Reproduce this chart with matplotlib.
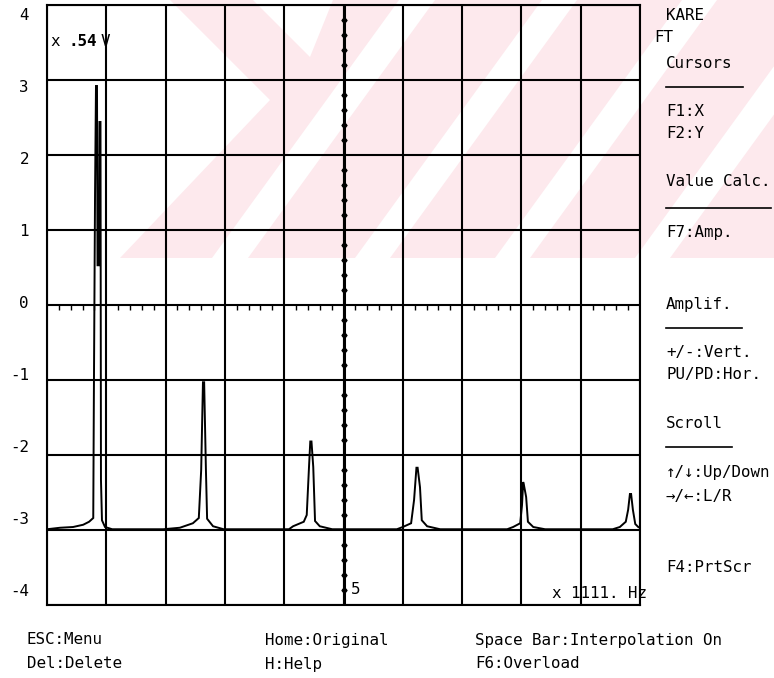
import matplotlib
matplotlib.use("Agg")
import matplotlib.pyplot as plt
import numpy as np
from matplotlib.patches import Polygon

INK = "#000000"
PINK = "#fde9ed"
MONO = "DejaVu Sans Mono"

# spectrum trace (x in units of 1111 Hz, y in units of .54 V)
trace_x = [0.00, 0.22, 0.44, 0.61, 0.71, 0.78, 0.79, 0.81, 0.826, 0.843, 0.852, 0.877,
           0.885, 0.902, 0.91, 0.927, 0.978, 1.10,
           1.96, 2.24, 2.46, 2.56, 2.60, 2.63, 2.65, 2.68, 2.70, 2.80, 2.98,
           4.08, 4.15, 4.33, 4.38, 4.42, 4.44, 4.46, 4.49, 4.52, 4.60, 4.81,
           5.90, 6.00, 6.14, 6.19, 6.23, 6.25, 6.29, 6.32, 6.41, 6.63,
           7.76, 7.86, 7.98, 8.01, 8.03, 8.04, 8.08, 8.11, 8.20, 8.40,
           9.54, 9.66, 9.76, 9.80, 9.83, 9.85, 9.88, 9.92, 9.97, 10.0]
trace_y = [-2.99, -2.97, -2.96, -2.93, -2.89, -2.84, -1.27, 1.47, 2.92, 2.92, 0.53, 0.53,
           2.44, 2.44, -2.33, -2.87, -2.96, -2.99,
           -2.99, -2.97, -2.91, -2.84, -2.20, -1.03, -1.03, -2.20, -2.85, -2.95, -2.99,
           -2.99, -2.95, -2.89, -2.80, -2.13, -1.82, -1.82, -2.16, -2.88, -2.95, -2.99,
           -2.99, -2.96, -2.91, -2.60, -2.17, -2.17, -2.43, -2.87, -2.95, -2.99,
           -2.99, -2.96, -2.91, -2.67, -2.36, -2.39, -2.56, -2.89, -2.96, -2.99,
           -2.99, -2.96, -2.89, -2.73, -2.52, -2.52, -2.73, -2.92, -2.96, -2.97]

y_ticks = [4, 3, 2, 1, 0, -1, -2, -3, -4]
x_divisions = list(range(0, 11))

menu_items = ["KARE", "FT", "Cursors", "F1:X", "F2:Y", "Value Calc.", "F7:Amp.",
              "Amplif.", "+/-:Vert.", "PU/PD:Hor.", "Scroll", "↑/↓:Up/Down",
              "→/←:L/R", "F4:PrtScr"]
menu_y = [15, 38, 63, 112, 133, 182, 232, 305, 353, 375, 423, 473, 496, 568]
menu_rules = [(87, 743), (208, 771), (328, 742), (447, 732)]

footer = [["ESC:Menu", "Del:Delete"],
          ["Home:Original", "H:Help"],
          ["Space Bar:Interpolation On", "F6:Overload"]]
footer_x = [27, 265, 475]

fig = plt.figure(figsize=(7.74, 6.78), dpi=100, facecolor="white")

# full-figure layer in pixel units for the backdrop and screen text
bg = fig.add_axes([0, 0, 1, 1], zorder=0)
bg.set_xlim(0, 774)
bg.set_ylim(678, 0)
bg.axis("off")

# faint pink backdrop with white diagonal gaps
bg.add_patch(Polygon([(170, 0), (774, 0), (774, 258), (120, 258), (270, 100)],
                     closed=True, facecolor=PINK, edgecolor="none"))
for poly in [
    [(253, 0), (333, 0), (310, 57)],
    [(212, 258), (248, 258), (435, 0), (399, 0)],
    [(355, 258), (390, 258), (577, 0), (542, 0)],
    [(495, 258), (530, 258), (717, 0), (682, 0)],
    [(635, 258), (670, 258), (857, 0), (822, 0)],
]:
    bg.add_patch(Polygon(poly, closed=True, facecolor="white", edgecolor="none"))

ax = fig.add_axes([47 / 774, 73 / 678, 593 / 774, 600 / 678], zorder=1)
ax.set_facecolor("none")
ax.set_xlim(0, 10)
ax.set_ylim(-4, 4)
ax.set_xticks(x_divisions)
ax.set_yticks(y_ticks)
ax.set_xticklabels([])
ax.set_yticklabels([])
ax.tick_params(length=0)
ax.grid(True, color=INK, linewidth=1.5)
for spine in ax.spines.values():
    spine.set_color(INK)
    spine.set_linewidth(1.5)

# small ticks hanging under the zero line
minor = np.arange(0.2, 10, 0.2)
minor = minor[np.abs(minor - np.round(minor)) > 0.05]
ax.vlines(minor, -0.06, 0, color=INK, linewidth=1.0)

# centre cursor axis with dotted scale
ax.axvline(5, color=INK, linewidth=2.2)
ys = np.arange(-3.8, 4.0, 0.2)
ys = ys[np.abs(ys - np.round(ys)) > 0.05]
ax.plot(np.full_like(ys, 5), ys, linestyle="none", marker="_", markersize=5,
        markeredgewidth=1.0, color=INK)
ax.plot(np.full_like(ys, 5), ys, linestyle="none", marker="o", markersize=2.8,
        color=INK)

ax.plot(trace_x, trace_y, color=INK, linewidth=1.4, solid_joinstyle="miter")

fs = 11.4
for v in y_ticks:
    bg.text(29, 15 + (4 - v) * 72.1, str(v), ha="right", va="center",
            fontsize=fs, family=MONO, color=INK)

bg.text(50, 42, "x", ha="left", va="center", fontsize=fs, family=MONO, color=INK)
bg.text(69, 42, ".54", ha="left", va="center", fontsize=fs, family=MONO,
        fontweight="bold", color=INK)
bg.text(101, 42, "V", ha="left", va="center", fontsize=fs, family=MONO, color=INK)
bg.text(351, 590, "5", ha="left", va="center", fontsize=fs, family=MONO, color=INK)
bg.text(552, 593, "x 1111. Hz", ha="left", va="center", fontsize=fs, family=MONO, color=INK)

for label, y in zip(menu_items, menu_y):
    x = 654 if label == "FT" else 666
    bg.text(x, y, label, ha="left", va="center", fontsize=fs, family=MONO, color=INK)
for y, x_end in menu_rules:
    bg.plot([666, x_end], [y, y], color=INK, linewidth=1.2)

for x, (top, bottom) in zip(footer_x, footer):
    bg.text(x, 640, top, ha="left", va="center", fontsize=fs, family=MONO, color=INK)
    bg.text(x, 664, bottom, ha="left", va="center", fontsize=fs, family=MONO, color=INK)

fig.savefig("out.png", dpi=100, facecolor="white")
plt.close(fig)
